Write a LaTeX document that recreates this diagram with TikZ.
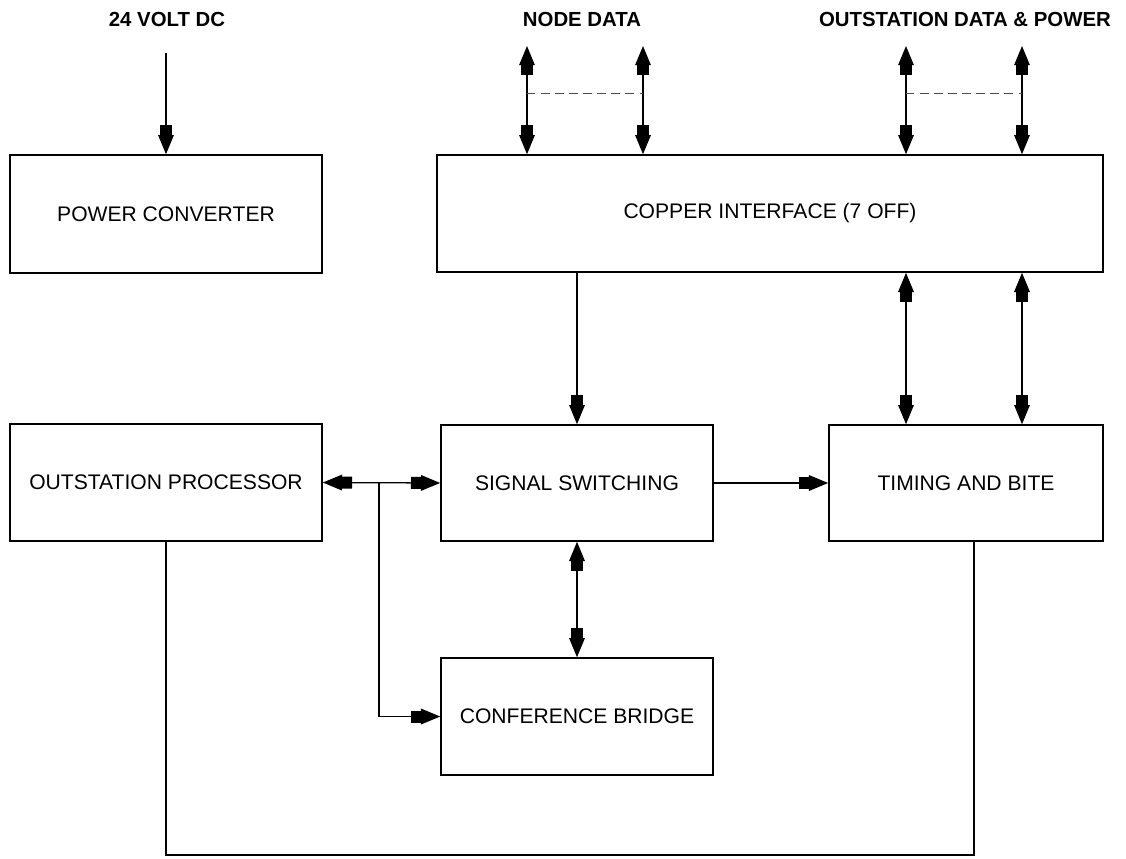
\documentclass[tikz,border=0pt]{standalone}
\usepackage{fontspec}
\setmainfont{Liberation Sans}
\usetikzlibrary{positioning,arrows.meta}

\begin{document}
\begin{tikzpicture}[
  x=0.025cm, y=-0.025cm,
  block/.style={
    rectangle,
    draw=black,
    line width=1.1pt,
    inner sep=0pt,
    font=\fontsize{15}{18}\selectfont
  },
  toplabel/.style={
    font=\fontsize{14.5}{17}\selectfont\bfseries,
    inner sep=0pt
  },
  wire/.style={
    line width=0.9pt
  },
  onearrow/.style={
    wire,
    -{Rectangle[length=2.5mm,width=3mm,sep=0pt]Triangle[length=4.8mm,width=3.9mm]}
  },
  twoarrow/.style={
    wire,
    {Triangle[length=4.8mm,width=3.9mm]Rectangle[length=2.5mm,width=3mm,sep=0pt]}-{Rectangle[length=2.5mm,width=3mm,sep=0pt]Triangle[length=4.8mm,width=3.9mm]}
  },
  bundle/.style={
    line width=0.5pt,
    draw=black!70,
    dash pattern=on 6pt off 4pt
  }]
  \useasboundingbox (0,0) rectangle (1126,858);
  % blocks
  \node [block, minimum width=7.8cm, minimum height=2.95cm] (power) at (166,214) {POWER CONVERTER};
  \node [block, minimum width=16.65cm, minimum height=2.925cm] (copper) at (770,213.5) {COPPER INTERFACE (7 OFF)};
  \node [block, minimum width=7.8cm, minimum height=2.925cm] (proc) at (166,482.5) {OUTSTATION PROCESSOR};
  \node [block, minimum width=6.8cm, minimum height=2.9cm] (signal) at (577,483) {SIGNAL SWITCHING};
  \node [block, minimum width=6.85cm, minimum height=2.9cm] (timing) at (966,483) {TIMING AND BITE};
  \node [block, minimum width=6.8cm, minimum height=2.925cm] (conf) at (577,716.5) {CONFERENCE BRIDGE};
  % inputs
  \node [toplabel] (vdc) at (167,19) {24 VOLT DC};
  \node [toplabel] (nodedata) at (582,19) {NODE DATA};
  \node [toplabel] (osdata) at (965,19) {OUTSTATION DATA \& POWER};
  \coordinate (vdcin) at (166,53);
  \coordinate (nd1) at (527,46);
  \coordinate (nd2) at (643,46);
  \coordinate (os1) at (906,46);
  \coordinate (os2) at (1022,46);
  \coordinate (br) at (379,482.5);
  \coordinate (loop) at (974,855);
  % level 1
  \draw[onearrow] (vdcin) -- (power.north);
  \draw[twoarrow] (nd1) -- (nd1 |- copper.north);
  \draw[twoarrow] (nd2) -- (nd2 |- copper.north);
  \draw[twoarrow] (os1) -- (os1 |- copper.north);
  \draw[twoarrow] (os2) -- (os2 |- copper.north);
  \draw[bundle] ([yshift=-47*0.025cm]nd1) -- ([yshift=-47*0.025cm]nd2);
  \draw[bundle] ([yshift=-47*0.025cm]os1) -- ([yshift=-47*0.025cm]os2);
  % level 2
  \draw[onearrow] (signal.north |- copper.south) -- (signal.north);
  \draw[twoarrow] (os1 |- copper.south) -- (os1 |- timing.north);
  \draw[twoarrow] (os2 |- copper.south) -- (os2 |- timing.north);
  \draw[twoarrow] (proc.east) -- (signal.west);
  \draw[onearrow] (br) |- (conf.west);
  \draw[onearrow] (signal.east) -- (timing.west);
  \draw[twoarrow] (signal.south) -- (conf.north);
  % level 3
  \draw[wire] (proc.south) -- (proc.south |- loop) -- (loop) -- (loop |- timing.south);
\end{tikzpicture}
\end{document}
